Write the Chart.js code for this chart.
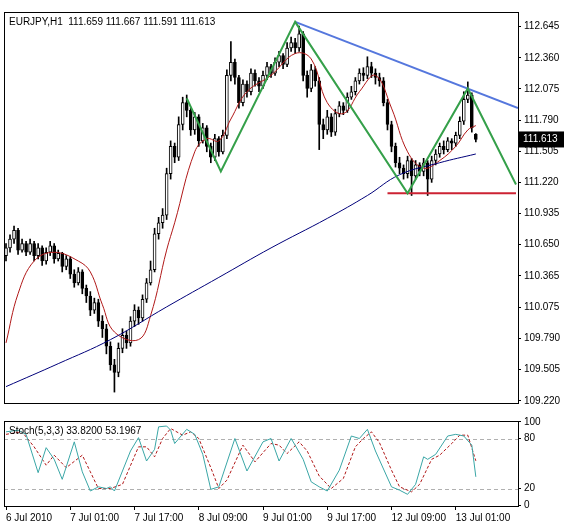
<!DOCTYPE html>
<html><head><meta charset="utf-8">
<script src="https://cdn.jsdelivr.net/npm/chart.js@4.4.0/dist/chart.umd.min.js"></script>
<style>
html,body{margin:0;padding:0;background:#fff;}
#wrap{position:relative;width:564px;height:526px;overflow:hidden;}
canvas{display:block;}
</style></head><body>
<div id="wrap">
<div style="width:564px;height:412px"><canvas id="main"></canvas></div>
<div style="width:564px;height:114px"><canvas id="stoch"></canvas></div>
</div>
<script>
const opens=[110.55,110.62,110.70,110.78,110.60, 110.66,110.58,110.66,110.55,110.62,110.50,110.58,110.64,110.52, 110.57,110.45,110.52,110.38,110.30,110.40,110.25, 110.18,110.05,110.12,109.95, 109.88,109.72,109.55,109.48, 109.70,109.82,109.75,109.95,110.05, 109.98,110.15,110.30, 110.42,110.75,110.85, 110.92,111.30,111.55, 111.45,111.75,111.95, 111.88,111.70,111.82,111.60,111.72,111.55,111.45,111.62, 111.50,111.65,112.20,112.32, 112.18,111.95,112.12,112.05,112.22, 112.15,112.10,112.20,112.28,112.22,112.32,112.38,112.30, 112.45,112.50,112.45, 112.58,112.20,112.08, 112.25,112.15, 111.75,111.70,111.82, 111.68,111.85,111.92,111.88, 112.00,112.05,112.15,112.22, 112.20,112.28,112.22, 112.18,112.15,111.95, 111.75,111.55,111.40,111.35, 111.30,111.42,111.28,111.38, 111.32,111.40,111.25,111.42, 111.48,111.55,111.52,111.60, 111.58,111.65,111.78, 111.98,112.02,111.659];
const highs=[110.66,110.74,110.82,110.80,110.70, 110.68,110.70,110.68,110.66,110.64,110.62,110.68,110.66,110.60, 110.58,110.55,110.54,110.42,110.44,110.42,110.28, 110.22,110.16,110.15,110.00, 109.92,109.76,109.60,109.75, 109.88,109.86,109.99,110.10,110.08, 110.19,110.34,110.50, 110.80,110.90,110.98, 111.35,111.60,111.58, 111.82,112.00,112.02, 111.90,111.86,111.84,111.76,111.74,111.58,111.66,111.64, 111.70,112.25,112.51,112.35, 112.20,112.16,112.15,112.26,112.25, 112.18,112.24,112.32,112.30,112.36,112.42,112.40,112.50, 112.55,112.54,112.65, 112.60,112.24,112.30, 112.28,112.18, 111.80,111.88,111.85, 111.89,111.96,111.95,112.04, 112.10,112.18,112.26,112.27, 112.37,112.32,112.26, 112.22,112.18,111.98, 111.78,111.58,111.45,111.38, 111.46,111.44,111.42,111.40, 111.44,111.42,111.46,111.52, 111.58,111.60,111.63,111.62, 111.68,111.82,112.05, 112.14,112.04,111.667];
const lows=[110.50,110.58,110.66,110.56,110.58, 110.55,110.56,110.50,110.52,110.46,110.47,110.55,110.48,110.50, 110.40,110.42,110.34,110.26,110.28,110.20,110.12, 110.00,110.02,109.90,109.80, 109.65,109.50,109.30,109.44, 109.66,109.70,109.72,109.90,109.92, 109.95,110.12,110.28, 110.40,110.70,110.80, 110.88,111.25,111.40, 111.42,111.70,111.82, 111.65,111.66,111.55,111.58,111.50,111.40,111.42,111.46, 111.48,111.62,112.15,112.12, 111.90,111.92,112.00,112.02,112.10, 112.05,112.08,112.16,112.18,112.20,112.28,112.26,112.28, 112.42,112.40,112.42, 112.15,112.00,112.05, 112.10,111.52, 111.62,111.66,111.64, 111.65,111.82,111.84,111.86, 111.98,112.02,112.12,112.15, 112.17,112.18,112.12, 112.10,111.92,111.70, 111.50,111.36,111.30,111.25, 111.26,111.10,111.25,111.28, 111.28,111.10,111.22,111.38, 111.45,111.48,111.50,111.52, 111.55,111.62,111.75, 111.95,111.68,111.591];
const closes=[110.62,110.70,110.78,110.60,110.66, 110.58,110.66,110.55,110.62,110.50,110.58,110.64,110.52,110.57, 110.45,110.52,110.38,110.30,110.40,110.25,110.18, 110.05,110.12,109.95,109.88, 109.72,109.55,109.48,109.70, 109.82,109.75,109.95,110.05,109.98, 110.15,110.30,110.42, 110.75,110.85,110.92, 111.30,111.55,111.45, 111.75,111.95,111.88, 111.70,111.82,111.60,111.72,111.55,111.45,111.62,111.50, 111.65,112.20,112.32,112.18, 111.95,112.12,112.05,112.22,112.15, 112.10,112.20,112.28,112.22,112.32,112.38,112.30,112.45, 112.50,112.45,112.58, 112.20,112.08,112.25, 112.15,111.75, 111.70,111.82,111.68, 111.85,111.92,111.88,112.00, 112.05,112.15,112.22,112.20, 112.28,112.22,112.18, 112.15,111.95,111.75, 111.55,111.40,111.35,111.30, 111.42,111.28,111.38,111.32, 111.40,111.25,111.42,111.48, 111.55,111.52,111.60,111.58, 111.65,111.78,111.98, 112.02,111.72,111.613];
const redMA=[[0,109.75],[3,110.2],[7,110.5],[12,110.58],[18,110.5],[21,110.4],[24,110.1],[27,109.85],[33,109.78],[36,110.0],[40,110.6],[42,110.85],[47,111.5],[50,111.62],[53,111.6],[56,111.8],[60,112.05],[66,112.2],[72,112.4],[76,112.35],[80,111.95],[84,111.85],[88,112.05],[92,112.2],[96,111.9],[100,111.5],[104,111.35],[108,111.42],[112,111.55],[115,111.7],[117,111.74]];
const blueMA=[[0,109.35],[13,109.56],[26,109.78],[40,110.08],[53,110.35],[66,110.62],[80,110.89],[90,111.1],[98,111.29],[108,111.40],[117,111.48]];
const zigzag=[[45,111.99],[53.5,111.32],[72,112.69],[100,111.12],[115,112.08],[127,111.2]];
const trendLine=[[72,112.69],[127.5,111.9]];
const supportLine=[[95,111.12],[127,111.12]];
const priceTicks=[109.22,109.505,109.79,110.075,110.365,110.65,110.935,111.22,111.505,111.79,112.075,112.36,112.645];
const stochK=[[0,88],[3,90],[5,85],[8,39],[10,69],[12,55],[14,31],[17,76],[19,40],[21,17],[23,22],[25,20],[26,22],[27,17],[31,65],[33,81],[35,53],[37,67],[38,94],[40,95],[41,90],[42,74],[45,91],[47,85],[49,61],[51,19],[53,22],[57,80],[60,41],[64,76],[66,80],[68,53],[71,80],[72,72],[74,55],[76,28],[78,22],[80,17],[83,42],[86,83],[88,80],[90,91],[92,65],[96,22],[98,18],[100,13],[102,25],[104,58],[105,55],[107,61],[110,83],[112,85],[114,83],[116,72],[117,34]];
const stochD=[[0,85],[4,88],[7,70],[10,48],[12,60],[15,45],[19,60],[21,40],[23,20],[26,20],[29,25],[33,70],[35,70],[37,58],[39,80],[41,92],[44,84],[46,88],[48,80],[51,45],[53,20],[55,30],[59,72],[62,52],[66,74],[68,72],[70,62],[73,76],[75,65],[78,35],[81,20],[84,32],[87,70],[89,80],[91,88],[93,75],[96,42],[98,22],[101,16],[103,25],[106,55],[108,60],[111,74],[113,84],[115,84],[117,53.2]];
const stochTicks=[0,20,80,100];
const stochLevels=[20,80];
const dateTickIdx=[0,16,32,48,64,80,96,112];
const dateLabels=['6 Jul 2010','7 Jul 01:00','7 Jul 17:00','8 Jul 09:00','9 Jul 01:00','9 Jul 17:00','12 Jul 09:00','13 Jul 01:00'];

const FONT='"Liberation Sans", Arial, sans-serif';
Chart.defaults.font.family=FONT;
Chart.defaults.font.size=10;
Chart.defaults.color='#000';
Chart.defaults.animation=false;
const pts=a=>a.map(p=>({x:p[0],y:p[1]}));
const idx=closes.map((_,i)=>i);
const bodies=idx.map(i=>({x:i,y:[Math.min(opens[i],closes[i]),Math.max(opens[i],closes[i])]}));
const wicks=idx.map(i=>({x:i,y:[lows[i],highs[i]]}));
const bodyFill=idx.map(i=>closes[i]>=opens[i]?'#fff':'#000');

const frame={id:'frame',
beforeDatasetsDraw(c,a,o){if(!o.levels)return;const ctx=c.ctx,ca=c.chartArea;ctx.save();ctx.setLineDash([4,3]);ctx.strokeStyle='#b0b0b0';ctx.lineWidth=1;
 o.levels.forEach(v=>{const y=Math.round(c.scales.y.getPixelForValue(v))+0.5;ctx.beginPath();ctx.moveTo(ca.left,y);ctx.lineTo(ca.right,y);ctx.stroke();});ctx.restore();},
afterDraw(c,a,o){const ctx=c.ctx,ca=c.chartArea;ctx.save();ctx.setLineDash([]);ctx.strokeStyle='#000';ctx.lineWidth=1;ctx.strokeRect(Math.round(ca.left)+0.5,Math.round(ca.top)+0.5,Math.round(ca.right-ca.left),Math.round(ca.bottom-ca.top));
ctx.font='10px '+FONT;ctx.fillStyle='#000';ctx.textBaseline='top';ctx.fillText(o.title,ca.left+5,ca.top+5);
if(o.price){const y=c.scales.y.getPixelForValue(o.price);ctx.fillStyle='#000';ctx.fillRect(ca.right+1,y-8,45,16);ctx.fillStyle='#fff';ctx.textBaseline='middle';ctx.fillText(o.price.toFixed(3),ca.right+5,y);}
ctx.restore();}};

new Chart(document.getElementById('main'),{
 data:{datasets:[
  {type:'line',data:pts(blueMA),borderColor:'#00007a',borderWidth:1,pointRadius:0,tension:0.4,order:1},
  {type:'line',data:pts(redMA),borderColor:'#b01818',borderWidth:1,pointRadius:0,tension:0.4,order:1},
  {type:'line',data:pts(zigzag),borderColor:'#35a04a',borderWidth:2,pointRadius:0,order:0},
  {type:'line',data:pts(trendLine),borderColor:'#5577dd',borderWidth:2,pointRadius:0,order:0},
  {type:'line',data:pts(supportLine),borderColor:'#cc2233',borderWidth:2,pointRadius:0,order:0},
  {type:'bar',data:wicks,backgroundColor:'#000',barThickness:1,order:3},
  {type:'bar',data:bodies,backgroundColor:bodyFill,borderColor:'#000',borderWidth:1,borderSkipped:false,barThickness:3,minBarLength:1,order:2}
 ]},
 options:{responsive:true,maintainAspectRatio:false,grouped:false,
  layout:{padding:{top:12,left:4,bottom:1,right:0}},
  plugins:{legend:{display:false},tooltip:{enabled:false},frame:{title:'EURJPY,H1  111.659 111.667 111.591 111.613',price:111.613}},
  scales:{
   x:{type:'linear',min:-0.5,max:127.5,offset:false,display:false,grid:{display:false}},
   y:{position:'right',min:109.2,max:112.78,afterFit(s){s.width=46;},
      afterBuildTicks(s){s.ticks=priceTicks.map(v=>({value:v}));},
      ticks:{callback:v=>v.toFixed(3),padding:3,font:{size:10}},
      grid:{drawOnChartArea:false,tickLength:3,color:'#000'},border:{color:'#000'}}
  }},
 plugins:[frame]
});

new Chart(document.getElementById('stoch'),{
 type:'line',
 data:{datasets:[
  {data:pts(stochK),borderColor:'#3aa6a6',borderWidth:1,pointRadius:0},
  {data:pts(stochD),borderColor:'#b01818',borderWidth:1,borderDash:[3,2],pointRadius:0}
 ]},
 options:{responsive:true,maintainAspectRatio:false,
  layout:{padding:{top:2,left:4,bottom:0,right:0}},
  plugins:{legend:{display:false},tooltip:{enabled:false},frame:{title:'Stoch(5,3,3) 33.8200 53.1967',levels:stochLevels}},
  scales:{
   x:{type:'linear',min:-0.5,max:127.5,offset:false,afterFit(s){s.height=20;},
      afterBuildTicks(s){s.ticks=dateTickIdx.map(v=>({value:v}));},
      ticks:{callback:v=>dateLabels[dateTickIdx.indexOf(v)],maxRotation:0,autoSkip:false,align:'start',padding:2,font:{size:10}},
      grid:{drawOnChartArea:false,tickLength:4,color:'#000'},border:{color:'#000'}},
   y:{position:'right',min:-1,max:101,afterFit(s){s.width=46;},
      afterBuildTicks(s){s.ticks=stochTicks.map(v=>({value:v}));},
      ticks:{padding:3,font:{size:10}},
      grid:{drawOnChartArea:false,tickLength:3,color:'#000'},
      border:{color:'#000'}}
  }},
 plugins:[frame]
});
</script></body></html>
